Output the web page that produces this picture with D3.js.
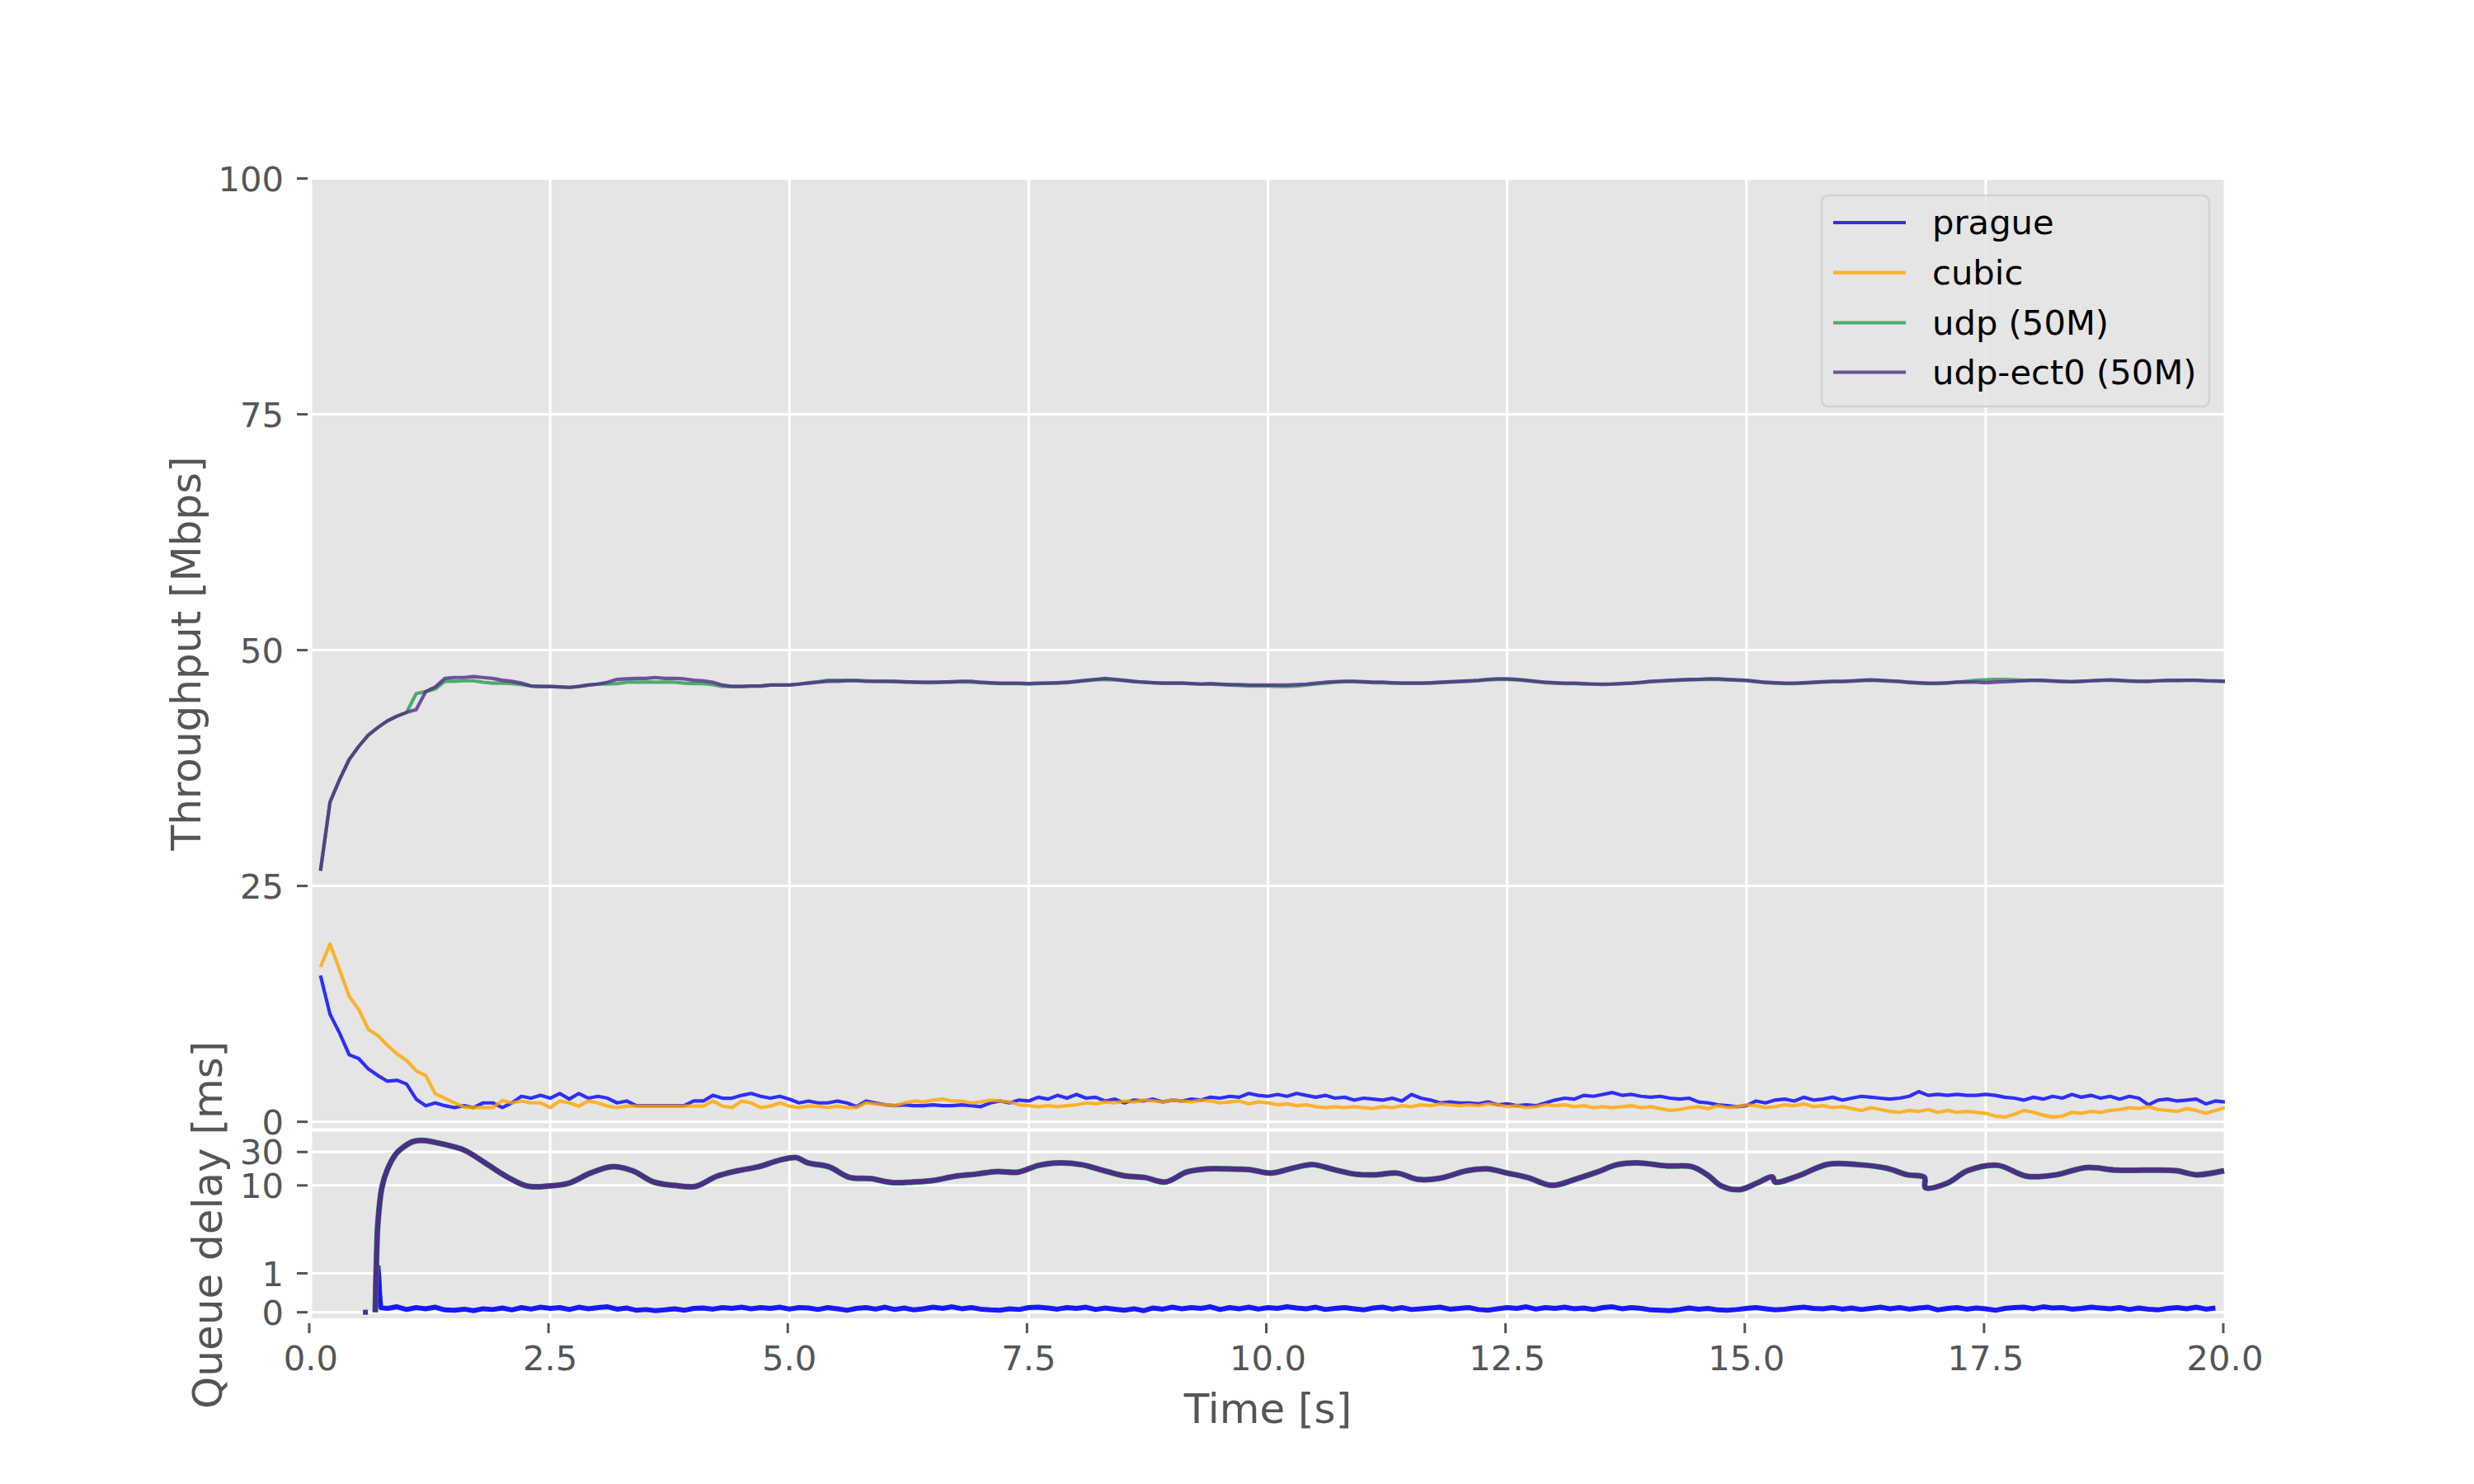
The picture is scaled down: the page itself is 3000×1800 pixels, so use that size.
<!DOCTYPE html>
<html><head><meta charset="utf-8">
<script src="https://cdn.jsdelivr.net/npm/d3@7"></script>
<style>
body{margin:0;background:#fff}
svg{display:block}
text{font-family:"DejaVu Sans",sans-serif;fill:#555555}
</style>
</head><body>
<svg id="chart" width="3000" height="1800"></svg>
<script>
// ---------------- DATA ----------------
const seriesNames = ["prague", "cubic", "udp (50M)", "udp-ect0 (50M)"];
const seriesColors = ["#0000ff", "#ffa500", "#289b50", "#4d2d88"];
const xTicks = [0, 2.5, 5, 7.5, 10, 12.5, 15, 17.5, 20];
const xTickLabels = ["0.0", "2.5", "5.0", "7.5", "10.0", "12.5", "15.0", "17.5", "20.0"];
const tputTicks = [0, 25, 50, 75, 100];
const delayTicks = [0, 1, 10, 30];
// throughput sampled every 0.1 s from 0.1 s to 20.0 s
const tputTime = d3.range(1, 201).map(i => i / 10);

const pragueTput = [
15.5,11.4,9.4,7.1,6.7,5.6,4.9,4.3,4.4,4.0,
2.4,1.7,2.0,1.7,1.5,1.7,1.5,2.0,2.0,1.5,
2.0,2.7,2.5,2.8,2.5,3.0,2.4,3.0,2.5,2.7,
2.5,2.0,2.2,1.7,1.7,1.7,1.7,1.7,1.7,2.2,
2.2,2.8,2.5,2.5,2.8,3.0,2.7,2.5,2.7,2.4,
2.0,2.2,2.0,2.0,2.2,2.0,1.6,2.2,
2.0,1.8,1.7,1.8,1.7,1.7,1.8,1.7,1.7,1.8,1.7,1.6,
2.0,2.2,2.0,2.3,2.2,2.6,2.4,2.8,2.5,2.9,
2.5,2.6,2.2,2.4,2.0,2.3,2.2,2.4,2.1,2.3,
2.2,2.4,2.3,2.6,2.5,2.7,2.6,3.0,2.8,2.7,
2.9,2.7,3.0,2.8,2.6,2.8,2.5,2.6,2.3,2.5,
2.4,2.3,2.5,2.2,2.9,2.5,2.3,2.0,2.1,2.0,
2.0,1.9,2.1,1.8,1.9,1.7,1.8,1.7,2.0,2.3,
2.5,2.4,2.8,2.7,2.9,3.1,2.8,2.9,2.7,2.6,
2.7,2.5,2.4,2.5,2.1,2.0,1.8,1.7,1.6,1.7,
2.2,2.0,2.3,2.4,2.2,2.6,2.3,2.4,2.6,2.3,
2.5,2.7,2.6,2.5,2.4,2.5,2.7,3.2,2.8,2.9,
2.8,2.9,2.8,2.8,2.9,2.8,2.6,2.5,2.3,2.6,
2.4,2.7,2.5,2.9,2.6,2.8,2.5,2.7,2.4,2.7,
2.5,1.8,2.3,2.4,2.2,2.3,2.4,1.9,2.2,2.1];

const cubicTput = [
16.4,18.85,16.1,13.3,11.9,9.8,9.15,8.1,7.2,6.5,
5.4,4.9,2.97,2.5,2.0,1.57,1.5,1.5,1.5,2.25,
2.0,2.2,2.0,2.0,1.5,2.2,2.0,1.66,2.2,2.0,
1.66,1.5,1.66,1.66,1.66,1.66,1.66,1.66,1.66,1.66,
1.66,2.2,1.66,1.5,2.2,2.0,1.5,1.66,2.0,1.66,
1.5,1.66,1.66,1.5,1.66,1.5,1.5,2.0,
1.9,1.8,1.7,2.0,2.2,2.1,2.3,2.4,2.2,2.2,2.0,2.1,
2.3,2.2,2.1,1.8,1.7,1.6,1.7,1.6,1.7,1.8,
2.0,1.9,2.1,2.0,2.2,2.1,2.3,2.2,2.1,2.3,
2.2,2.1,2.3,2.2,2.0,2.1,2.2,1.9,2.1,2.0,
1.8,1.9,1.7,1.8,1.6,1.5,1.6,1.5,1.6,1.5,
1.4,1.6,1.5,1.7,1.6,1.8,1.7,1.9,1.8,1.7,
1.8,1.7,1.9,1.8,1.6,1.7,1.5,1.6,1.8,1.7,
1.8,1.6,1.7,1.5,1.6,1.5,1.6,1.7,1.5,1.6,
1.4,1.2,1.3,1.5,1.6,1.4,1.7,1.5,1.6,1.8,
1.7,1.5,1.6,1.8,1.7,1.9,1.6,1.7,1.5,1.6,
1.4,1.2,1.5,1.3,1.1,1.0,1.2,1.1,1.3,1.0,
1.2,1.0,1.1,1.0,0.9,0.6,0.5,0.8,1.2,1.0,
0.7,0.5,0.6,1.0,0.9,1.1,1.0,1.2,1.3,1.5,
1.4,1.6,1.3,1.2,1.1,1.4,1.2,0.9,1.2,1.5];

const udpTput = [
26.6,33.9,36.3,38.4,39.8,41.0,41.8,42.5,43.0,43.4,
45.4,45.6,45.9,46.7,46.7,46.75,46.75,46.6,46.5,46.5,
46.45,46.35,46.2,46.15,46.15,46.1,46.05,46.15,46.3,46.4,
46.4,46.45,46.6,46.6,46.6,46.6,46.6,46.6,46.5,46.45,
46.45,46.35,46.15,46.15,46.15,46.2,46.2,46.3,46.3,46.3,
46.4,46.55,46.65,46.8,46.8,46.8,46.8,46.75,
46.7,46.7,46.65,46.6,46.6,46.55,46.55,46.6,46.6,46.65,46.6,46.55,
46.5,46.45,46.45,46.45,46.4,46.45,46.5,46.5,46.55,46.65,
46.75,46.85,46.9,46.85,46.75,46.65,46.6,46.55,46.5,46.5,
46.5,46.45,46.4,46.4,46.35,46.3,46.25,46.2,46.2,46.2,
46.15,46.15,46.2,46.3,46.4,46.5,46.6,46.65,46.65,46.6,
46.55,46.55,46.5,46.5,46.5,46.5,46.5,46.55,46.6,46.65,
46.7,46.75,46.85,46.9,46.9,46.85,46.75,46.65,46.55,46.5,
46.45,46.45,46.4,46.4,46.35,46.4,46.45,46.5,46.55,46.65,
46.7,46.75,46.8,46.85,46.9,46.9,46.9,46.85,46.8,46.75,
46.65,46.55,46.5,46.45,46.45,46.5,46.55,46.6,46.65,46.65,
46.7,46.75,46.8,46.75,46.7,46.65,46.55,46.5,46.45,46.45,
46.5,46.6,46.7,46.8,46.85,46.9,46.9,46.85,46.8,46.8,
46.75,46.7,46.65,46.65,46.7,46.75,46.8,46.8,46.75,46.7,
46.7,46.7,46.75,46.75,46.75,46.8,46.8,46.75,46.7,46.7];

const udpEct0Tput = [
26.6,33.9,36.3,38.4,39.8,41.0,41.8,42.5,43.0,43.4,
43.7,45.6,46.1,47.0,47.1,47.1,47.2,47.1,47.0,46.8,
46.7,46.5,46.2,46.15,46.15,46.1,46.05,46.15,46.3,46.4,
46.6,46.9,46.95,47.0,47.0,47.1,47.0,47.0,46.95,46.8,
46.75,46.6,46.3,46.15,46.15,46.2,46.2,46.3,46.3,46.3,
46.4,46.5,46.6,46.7,46.7,46.75,46.75,46.7,
46.7,46.7,46.7,46.65,46.6,46.6,46.6,46.6,46.65,46.7,46.7,46.6,
46.55,46.5,46.5,46.5,46.45,46.5,46.5,46.55,46.6,46.7,
46.8,46.9,47.0,46.9,46.8,46.7,46.6,46.55,46.5,46.5,
46.5,46.45,46.4,46.45,46.4,46.35,46.35,46.3,46.3,46.3,
46.3,46.3,46.35,46.4,46.5,46.6,46.65,46.7,46.7,46.65,
46.6,46.6,46.55,46.5,46.5,46.5,46.55,46.6,46.65,46.7,
46.75,46.8,46.9,46.95,46.95,46.9,46.8,46.7,46.6,46.55,
46.5,46.5,46.45,46.4,46.4,46.4,46.45,46.5,46.6,46.7,
46.75,46.8,46.85,46.9,46.9,46.95,46.95,46.9,46.85,46.8,
46.7,46.6,46.55,46.5,46.5,46.55,46.6,46.65,46.7,46.7,
46.75,46.8,46.85,46.8,46.75,46.7,46.6,46.55,46.5,46.5,
46.55,46.6,46.6,46.6,46.55,46.6,46.65,46.7,46.75,46.8,
46.8,46.75,46.7,46.65,46.7,46.75,46.8,46.85,46.8,46.75,
46.7,46.7,46.75,46.8,46.8,46.8,46.8,46.75,46.75,46.7];

// queue delay of the classic queue (cubic, udp, udp-ect0 share it), ms
const classicDelayT = [0.672,0.686,0.70,0.743,0.80,0.887,0.94,1.06,1.16,1.38,1.60,1.82,2.04,2.26,2.48,2.70,2.92,3.14,3.36,3.58,3.80,4.02,4.24,4.46,4.68,4.90,5.07,5.19,5.41,5.63,5.85,6.07,6.29,6.51,6.73,6.95,7.17,7.39,7.61,7.83,8.05,8.27,8.49,8.71,8.93,9.15,9.37,9.59,9.81,10.03,10.25,10.47,10.69,10.91,11.13,11.35,11.57,11.79,12.08,12.29,12.5,12.71,12.97,13.23,13.44,13.65,13.86,14.17,14.43,14.59,14.74,14.93,15.11,15.27,15.30,15.53,15.85,16.16,16.47,16.68,16.86,16.87,17.1,17.31,17.62,17.93,18.24,18.55,18.87,19.18,19.49,19.70,19.99];
const classicDelay = [0,1.4,2.9,9.5,17,28,33,42,44,39,32,21,13.5,9.8,9.8,10.8,15,18.5,16.2,11.2,10,9.7,13.5,16.2,18.5,23,25,21,18.5,13,12.5,11,11.2,11.8,13.5,14.5,15.8,15.5,19.4,21,19.8,16.5,13.8,13,11.2,15.5,17.2,17.2,16.8,15,17.5,19.8,16.8,14.5,14.2,15,12.2,12.6,16.2,17.2,15,13,10,12.5,15.5,19.8,21,19,18.5,14.2,9.8,8.7,10.8,13.2,11.2,13.5,20,19.8,17.5,14.2,13,9.3,10.8,16.2,19.4,13.5,14.2,18,16.5,16.5,16.2,14.2,16.2];
const classicStrayT = [0.57];
const classicStray = [0];

// queue delay of the L4S queue (prague), ms
const l4sDelayT = [0.70,0.71,0.72,0.73].concat(d3.range(8, 200).map(i => i / 10));
const l4sDelay = [1.2,0.9,0.4,0.12,
.10,.14,.07,.12,.09,.13,.06,.05,.08,.04,
.09,.07,.11,.06,.12,.08,.13,.10,.12,.07,
.13,.09,.12,.14,.08,.11,.05,.07,.04,.06,
.09,.05,.10,.11,.08,.12,.10,.13,.09,.12,
.10,.13,.08,.12,.11,.07,.12,.09,.05,.10,
.12,.08,.13,.07,.11,.06,.09,.13,.10,.14,
.09,.12,.08,.06,.05,.09,.07,.12,.13,.11,
.08,.12,.10,.13,.07,.11,.08,.05,.09,.04,
.11,.08,.13,.09,.12,.10,.14,.07,.12,.09,
.13,.08,.12,.10,.14,.11,.09,.13,.07,.10,
.12,.09,.06,.11,.13,.08,.12,.07,.09,.11,
.13,.08,.10,.12,.07,.05,.09,.12,.10,.14,
.08,.12,.10,.13,.09,.11,.07,.12,.14,.09,
.12,.10,.06,.05,.04,.07,.11,.08,.10,.06,
.05,.07,.10,.12,.09,.06,.08,.11,.13,.10,
.09,.12,.08,.11,.07,.10,.13,.09,.12,.08,
.11,.13,.06,.10,.12,.08,.11,.09,.05,.10,
.12,.13,.09,.14,.11,.12,.08,.10,.13,.11,
.09,.12,.07,.11,.08,.06,.10,.12,.09,.13,
.08,.11];

// ---------------- LAYOUT ----------------
const svg = d3.select("#chart");
svg.append("rect").attr("width", 3000).attr("height", 1800).attr("fill", "#ffffff");

const L = 377, R = 2698;
const top1 = 216.5, bot1 = 1368.3;
const top2 = 1372.7, bot2 = 1599;
const x = d3.scaleLinear().domain([0, 20]).range([L, R]);
const yT = d3.scaleLinear().domain([-0.67, 100]).range([bot1, top1]);

// matplotlib-like symlog (linthresh 2, linscale 1, base 10)
const LT = 2, ADJ = 1 / (1 - 1 / 10);
function symlog(v) {
  const a = Math.abs(v), s = Math.sign(v);
  return a <= LT ? s * a * ADJ : s * LT * (ADJ + Math.log10(a / LT));
}
const yDLin = d3.scaleLinear().domain([symlog(-0.155), symlog(58.4)]).range([bot2, top2]);
const yD = v => yDLin(symlog(v));

const gridC = "#ffffff", bg = "#e5e5e5", tickC = "#555555";
const FS = 41.7, LFS = 50;

function panel(top, bot, yScale, ticks, labels) {
  const g = svg.append("g");
  g.append("rect").attr("x", L).attr("y", top).attr("width", R - L).attr("height", bot - top).attr("fill", bg);
  g.selectAll(".hg").data(ticks).join("line")
    .attr("x1", L).attr("x2", R).attr("y1", d => yScale(d)).attr("y2", d => yScale(d))
    .attr("stroke", gridC).attr("stroke-width", 3);
  g.selectAll(".vg").data(xTicks).join("line")
    .attr("x1", d => x(d)).attr("x2", d => x(d)).attr("y1", top).attr("y2", bot)
    .attr("stroke", gridC).attr("stroke-width", 3);
  g.selectAll(".yt").data(ticks).join("line")
    .attr("x1", L - 17).attr("x2", L - 4).attr("y1", d => yScale(d)).attr("y2", d => yScale(d))
    .attr("stroke", tickC).attr("stroke-width", 3);
  g.selectAll(".yl").data(ticks).join("text")
    .attr("x", 344).attr("y", d => yScale(d) + 15.2)
    .attr("text-anchor", "end").attr("font-size", FS)
    .text((d, i) => labels[i]);
  return g;
}

panel(top1, bot1, yT, tputTicks, tputTicks.map(String));
panel(top2, bot2, yD, delayTicks, delayTicks.map(String));

svg.append("clipPath").attr("id", "c1").append("rect").attr("x", L).attr("y", top1).attr("width", R - L).attr("height", bot1 - top1);
svg.append("clipPath").attr("id", "c2").append("rect").attr("x", L).attr("y", top2).attr("width", R - L).attr("height", bot2 - top2);

svg.selectAll(".xt").data(xTicks).join("line")
  .attr("x1", d => x(d) - 2).attr("x2", d => x(d) - 2).attr("y1", bot2 + 6).attr("y2", bot2 + 18)
  .attr("stroke", tickC).attr("stroke-width", 3);
svg.selectAll(".xl").data(xTicks).join("text")
  .attr("x", d => x(d)).attr("y", 1661.7).attr("text-anchor", "middle").attr("font-size", FS)
  .text((d, i) => xTickLabels[i]);

svg.append("text").attr("transform", `translate(243,${(top1 + bot1) / 2}) rotate(-90)`)
  .attr("text-anchor", "middle").attr("font-size", LFS).text("Throughput [Mbps]");
svg.append("text").attr("transform", `translate(269,${(top2 + bot2) / 2}) rotate(-90)`)
  .attr("text-anchor", "middle").attr("font-size", LFS).text("Queue delay [ms]");
svg.append("text").attr("x", (L + R) / 2).attr("y", 1726).attr("text-anchor", "middle")
  .attr("font-size", LFS).text("Time [s]");

// throughput lines
const tputSeries = [pragueTput, cubicTput, udpTput, udpEct0Tput];
const lineT = d3.line().x((d, i) => x(tputTime[i])).y(d => yT(d));
const gT = svg.append("g").attr("clip-path", "url(#c1)");
tputSeries.forEach((s, k) => {
  gT.append("path").datum(s).attr("d", lineT).attr("fill", "none")
    .attr("stroke", seriesColors[k]).attr("stroke-opacity", 0.8)
    .attr("stroke-width", 4.2).attr("stroke-linejoin", "round");
});

// delay lines
const gDl = svg.append("g").attr("clip-path", "url(#c2)");
const lineL4S = d3.line().x((d, i) => x(l4sDelayT[i])).y(d => yD(d));
gDl.append("path").datum(l4sDelay).attr("d", lineL4S).attr("fill", "none")
  .attr("stroke", "#1717ff").attr("stroke-width", 6).attr("stroke-linejoin", "round");
const lineCl = d3.line().curve(d3.curveCatmullRom.alpha(0.5)).x((d, i) => x(classicDelayT[i])).y(d => yD(d));
[[1, 5], [2, 7], [3, 6]].forEach(([k, w]) => {
  gDl.append("path").datum(classicDelay).attr("d", lineCl).attr("fill", "none")
    .attr("stroke", seriesColors[k]).attr("stroke-width", w).attr("stroke-linejoin", "round");
});
gDl.selectAll(".stray").data(classicStray).join("rect")
  .attr("x", (d, i) => x(classicStrayT[i]) - 3).attr("y", d => yD(d) - 3)
  .attr("width", 6).attr("height", 6).attr("fill", seriesColors[3]);

// legend
const lg = svg.append("g");
lg.append("rect").attr("x", 2209).attr("y", 237).attr("width", 470).attr("height", 256)
  .attr("rx", 8).attr("fill", bg).attr("fill-opacity", 0.8)
  .attr("stroke", "#cccccc").attr("stroke-opacity", 0.8).attr("stroke-width", 2.5);
const rowY = [270, 330.7, 391.5, 451.5];
seriesNames.forEach((n, k) => {
  lg.append("line").attr("x1", 2223).attr("x2", 2311).attr("y1", rowY[k]).attr("y2", rowY[k])
    .attr("stroke", seriesColors[k]).attr("stroke-opacity", 0.8).attr("stroke-width", 4.2);
  lg.append("text").attr("x", 2343).attr("y", rowY[k] + 14).attr("font-size", FS)
    .style("fill", "#000").text(n);
});
</script>
</body></html>
